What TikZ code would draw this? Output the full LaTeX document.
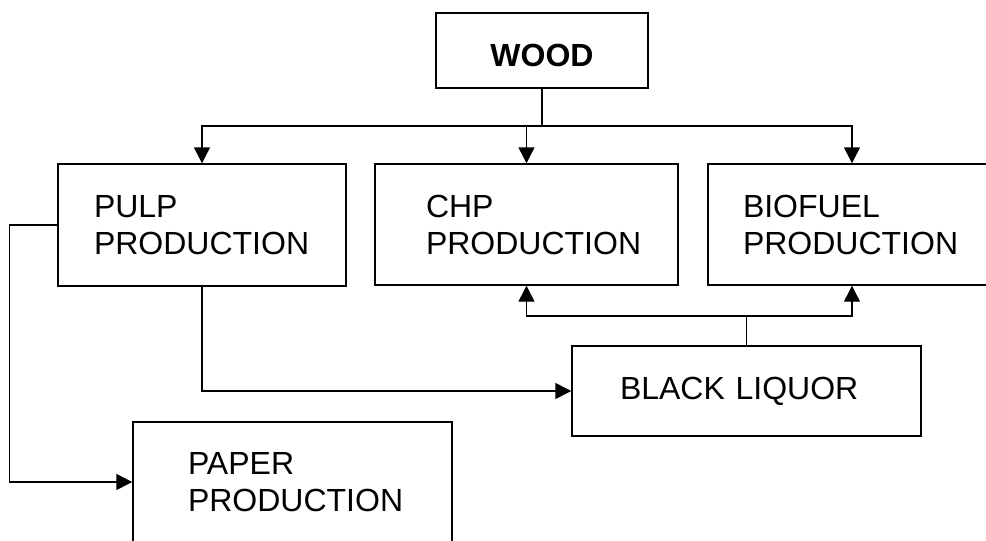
\documentclass[tikz,border=0pt]{standalone}
\usepackage{fontspec}
\setmainfont{Liberation Sans}
\usetikzlibrary{arrows.meta}
\hyphenpenalty=10000
\begin{document}
\begin{tikzpicture}[
    x=0.75pt, y=-0.75pt,
    line width=1.1pt,
    every node/.style={font=\fontsize{24}{27.75}\selectfont},
    box/.style={draw, rectangle, align=left, inner ysep=0pt},
    flow/.style={-{Triangle[length=12pt, width=12pt]}}
  ]
  \useasboundingbox (0,0) rectangle (986,540);
  \node[draw, minimum width=159pt, minimum height=56.25pt, text height=24pt, text depth=0pt,
        font=\fontsize{24}{27.75}\selectfont\bfseries] (wood) at (542,50.5) {WOOD};
  \node[box, minimum height=91.5pt, text width=162pt, inner xsep=27pt] (pulp) at (202,225) {PULP\\PRODUCTION};
  \node[box, minimum height=90.75pt, text width=150.75pt, inner xsep=38.25pt] (chp) at (526.5,224.5) {CHP\\PRODUCTION};
  \node[box, minimum height=90.75pt, text width=163.5pt, inner xsep=26.25pt] (bio) at (852,224.5) {BIOFUEL\\PRODUCTION};
  \node[box, minimum height=67.5pt, text width=189.75pt, inner xsep=36pt] (liquor) at (746.5,391) {BLACK LIQUOR};
  \node[box, minimum height=90pt, text width=156.75pt, inner xsep=41.25pt] (paper) at (292.5,482) {PAPER\\PRODUCTION};
  % wood to the three users
  \coordinate (bus) at (542,126);
  \draw (wood.south) -- (bus);
  \draw[flow] (bus) -| (pulp.north);
  \draw[flow] (bus) -| (chp.north);
  \draw[flow] (bus) -| (bio.north);
  % black liquor back up
  \coordinate (lbus) at (746.5,316);
  \draw (liquor.north) -- (lbus);
  \draw[flow] (lbus) -| (chp.south);
  \draw[flow] (lbus) -| (bio.south);
  % pulp outputs
  \draw[flow] (pulp.south) |- (liquor.west);
  \draw[flow] (pulp.west) -- ++(-48,0) |- (paper.west);
\end{tikzpicture}
\end{document}
